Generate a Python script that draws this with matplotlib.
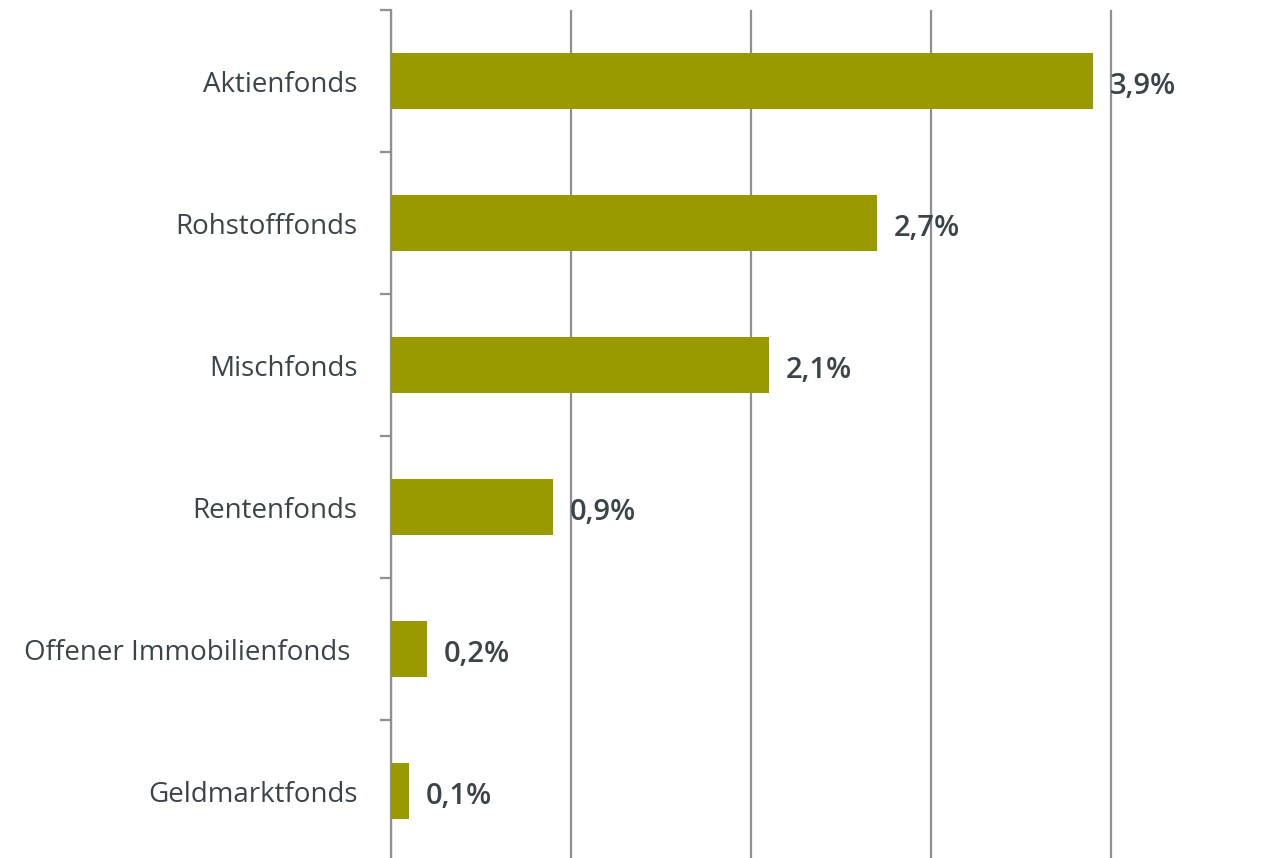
import numpy as np
import matplotlib.pyplot as plt

categories = ["Aktienfonds", "Rohstofffonds", "Mischfonds", "Rentenfonds",
              "Offener Immobilienfonds ", "Geldmarktfonds"]
values = [3.9, 2.7, 2.1, 0.9, 0.2, 0.1]
value_labels = ["3,9%", "2,7%", "2,1%", "0,9%", "0,2%", "0,1%"]

bar_color = "#999900"
grid_color = "#8f8f8f"
text_color = "#3b4449"

plt.rcParams['font.family'] = ['Open Sans', 'DejaVu Sans']

fig = plt.figure(figsize=(12.77, 8.58), dpi=100)
W, H = 1277, 858
# axes placed in pixel coords: left spine at x=391, top at y=10, 142 px per category
left, top = 391, 10
width = 792  # 0..4.4 -> 180 px per unit
height = 142 * len(categories)
ax = fig.add_axes([left / W, (H - top - height) / H, width / W, height / H])

y = np.arange(len(categories))
ax.barh(y, values, height=0.4, color=bar_color, zorder=3)

for yi, v, lab in zip(y, values, value_labels):
    ax.annotate(lab, (v, yi), xytext=(12, -4), textcoords="offset points",
                ha="left", va="center", fontsize=21, color=text_color,
                fontweight="semibold", annotation_clip=False)

ax.set_xlim(0, 4.4)
ax.set_ylim(len(categories) - 0.5, -0.5)
ax.set_xticks([0, 1, 2, 3, 4])
ax.xaxis.grid(True, color=grid_color, linewidth=1.6, zorder=0)
ax.tick_params(axis="x", length=0, labelbottom=False)

ax.set_yticks(y)
ax.set_yticklabels(categories, fontsize=20, color=text_color)
ax.set_yticks(np.arange(len(categories) + 1) - 0.5, minor=True)
ax.tick_params(axis="y", which="major", length=0, pad=24)
ax.tick_params(axis="y", which="minor", length=8, width=1.6, color=grid_color)

for s in ["top", "right", "bottom"]:
    ax.spines[s].set_visible(False)
ax.spines["left"].set_color(grid_color)
ax.spines["left"].set_linewidth(1.6)

fig.savefig("out.png", dpi=100)
